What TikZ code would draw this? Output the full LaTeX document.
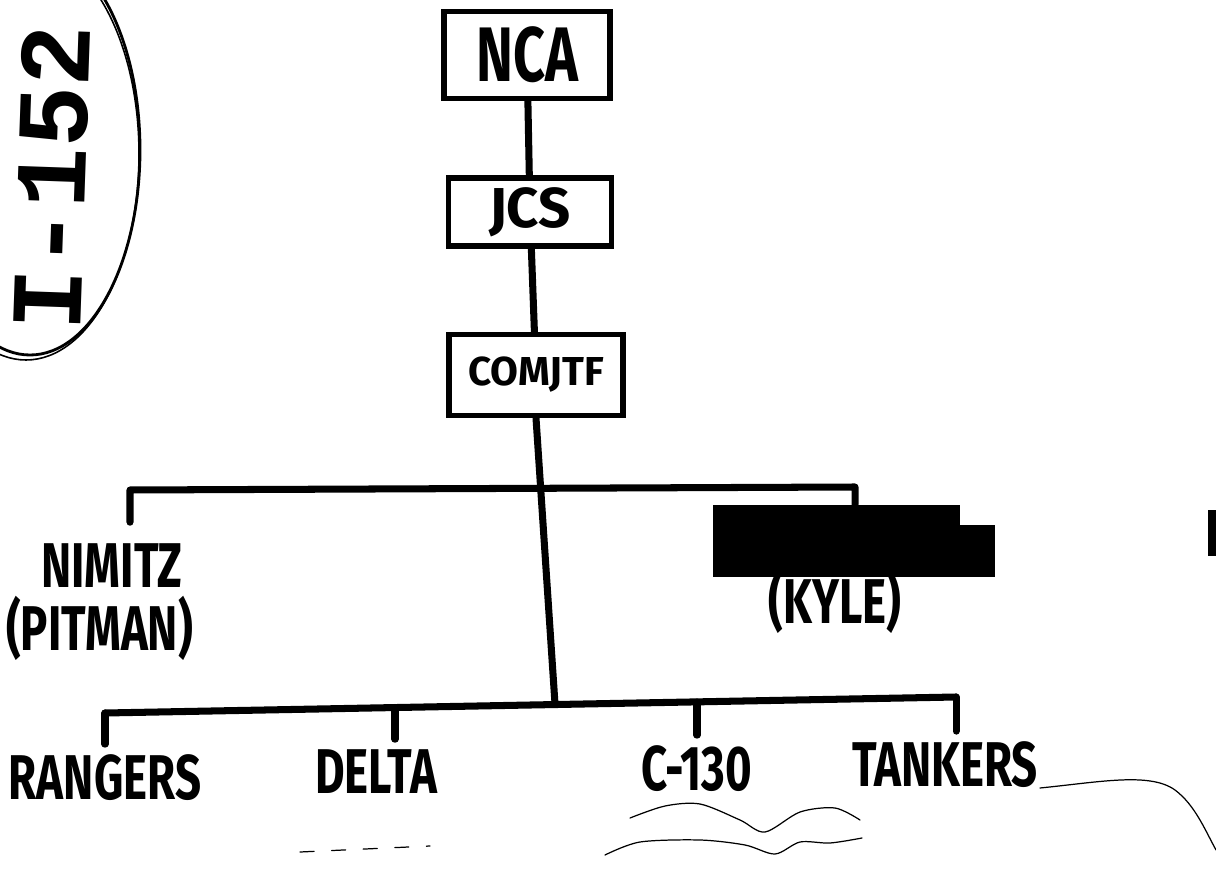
\documentclass[tikz,border=0pt]{standalone}
\usepackage{graphicx}
\usepackage{fontspec}
\setmainfont{Fira Sans}
\newfontfamily\stampfont{Liberation Mono}
\usetikzlibrary{positioning}
\newcommand{\inkword}[1]{\scalebox{0.72}[1]{#1}}

\begin{document}
\begin{tikzpicture}[
  x=0.02cm, y=-0.02cm,
  every node/.style={inner sep=2pt},
  ink/.style={line width=4pt, line cap=round, line join=round},
  unitbox/.style={draw, line width=3pt, inner sep=0pt, align=center},
  hand/.style={font=\bfseries\fontsize{36}{36}\selectfont},
  scrawl/.style={line width=0.7pt, line cap=round}
]
\useasboundingbox (0,0) rectangle (1216,874);
\clip (0,0) rectangle (1216,874);
% circled file mark
\draw[line width=1.6pt] (30,150) ellipse [x radius=110, y radius=205];
\draw[line width=0.9pt] (26,154) ellipse [x radius=113, y radius=206];
\node[rotate=88, font=\stampfont\bfseries\fontsize{58}{58}\selectfont] (mark) at (52,178) {I-152};
% command boxes
\node[unitbox, minimum width=3.32cm, minimum height=1.74cm,
      font=\bfseries\fontsize{44}{44}\selectfont] (nca) at (527,55) {\inkword{NCA}};
\node[unitbox, minimum width=3.26cm, minimum height=1.36cm,
      font=\bfseries\fontsize{32}{32}\selectfont] (jcs) at (530,212) {JCS};
\node[unitbox, minimum width=3.48cm, minimum height=1.62cm,
      font=\bfseries\fontsize{23}{23}\selectfont] (comjtf) at (536,375) {COMJTF};
% components
\node[hand] (nimitz) at (112,566) {\inkword{NIMITZ}};
\node[hand, below=0.02cm of nimitz, xshift=-0.25cm] (pitman) {\inkword{(PITMAN)}};
\node[fill=black, minimum width=4.94cm, minimum height=1.44cm, inner sep=0pt] (redact) at (836.5,541) {};
\fill (958,525) rectangle (995,577);
\node[hand] (kyle) at (835,601) {\inkword{(KYLE)}};
% forces
\node[hand] (rangers) at (105,778) {\inkword{RANGERS}};
\node[hand] (delta)   at (376,772) {\inkword{DELTA}};
\node[hand] (c130)    at (697,769) {\inkword{C-130}};
\node[hand] (tankers) at (945,765) {\inkword{TANKERS}};
% bars
\coordinate (upL) at (130,490);
\coordinate (upR) at (855,487);
\coordinate (loL) at (105,713);
\coordinate (loD) at (395,707.5);
\coordinate (loC) at (697,702);
\coordinate (loR) at (956,697);
\coordinate (hub) at (555,704);
% chain of command
\draw[ink] (nca) -- (jcs);
\draw[ink] (jcs) -- (comjtf);
\draw[ink] (comjtf.south) -- (hub);
\draw[ink, shorten <=0.36cm] (upL |- nimitz.north) -- (upL) -- (upR) -- (upR |- redact.north);
\draw[ink] (loL) -- (loR);
\draw[ink, shorten <=0.14cm] (loL |- rangers.north) -- (loL);
\draw[ink, shorten <=0.14cm] (loD |- delta.north) -- (loD);
\draw[ink, shorten <=0.14cm] (loC |- c130.north) -- (loC);
\draw[ink, shorten <=0.14cm] (loR |- tankers.north) -- (loR);
% page marks
\fill (1208,510) rectangle (1216,556);
\draw[scrawl] (1040,788) .. controls (1100,782) and (1150,772) .. (1175,790)
      .. controls (1195,805) and (1205,830) .. (1216,850);
\draw[scrawl] plot[smooth] coordinates {(630,818) (665,806) (700,804) (740,820) (765,832) (800,812) (835,808) (860,820)};
\draw[scrawl] plot[smooth] coordinates {(605,855) (640,842) (700,840) (745,845) (775,854) (800,842) (830,843) (862,838)};
\draw[scrawl, dash pattern=on 8pt off 10pt] (300,852) -- (430,846);
\end{tikzpicture}
\end{document}
